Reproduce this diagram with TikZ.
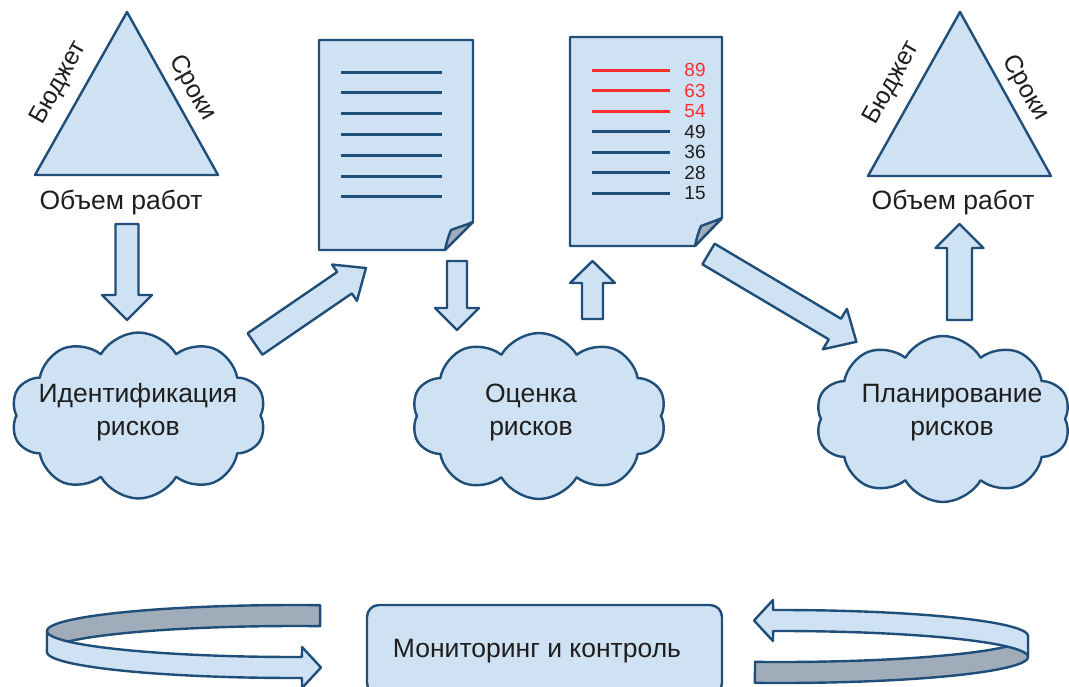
\documentclass[tikz,border=0pt]{standalone}
\usepackage{fontspec}
\setmainfont{Liberation Sans}
\usetikzlibrary{shapes.symbols}

\definecolor{paleblue}{RGB}{207,226,243}
\definecolor{edgeblue}{RGB}{31,78,121}
\definecolor{foldgray}{RGB}{160,172,186}
\definecolor{rankred}{RGB}{255,45,45}
\definecolor{inkgray}{RGB}{30,30,30}

\tikzset{
  paper/.style={fill=paleblue, draw=edgeblue, line width=2.4pt, line join=round},
  blockarrow/.style={paper},
  docline/.style={draw=edgeblue, line width=3pt},
  rankline/.style={draw=rankred, line width=3pt},
  tritext/.style={font=\fontsize{26.5}{33}\selectfont, text=inkgray, inner sep=0pt, align=center},
  sidetext/.style={tritext, font=\fontsize{25}{30}\selectfont},
  ranktext/.style={font=\fontsize{19}{22}\selectfont, inner sep=0pt},
  riskcloud/.style={cloud, cloud puffs=10, cloud puff arc=120, aspect=1.5, paper,
    minimum width=255pt, minimum height=166pt, inner sep=0pt}
}

\begin{document}
\begin{tikzpicture}[x=1pt, y=-1pt]
  \useasboundingbox (0,0) rectangle (1069,686);

  % project triangle, left
  \filldraw[paper] (127,12) -- (218,175) -- (35,175) -- cycle;
  \node[sidetext, rotate=60.6] (budgetL) at (59,83) {Бюджет};
  \node[sidetext, rotate=-60.6] (termsL) at (192,88) {Сроки};
  \node[tritext] (scopeL) at (121,203) {Объем работ};

  % project triangle, right
  \filldraw[paper] (960,12) -- (1051,176) -- (868,176) -- cycle;
  \node[sidetext, rotate=60.6] (budgetR) at (892,83) {Бюджет};
  \node[sidetext, rotate=-60.6] (termsR) at (1025,88) {Сроки};
  \node[tritext] (scopeR) at (953,203) {Объем работ};

  % list of risks
  \begin{scope}[shift={(319,40)}]
    \filldraw[paper] (0,0) -- (154,0) -- (154,182) -- (126,210) -- (0,210) -- cycle;
    \filldraw[paper, fill=foldgray] (126,210) .. controls (128,200) and (130,195) .. (132,190)
      .. controls (140,187) and (147,185) .. (154,182) -- cycle;
    \foreach \i in {0,...,6}
      \draw[docline] (22,{32+20.8*\i}) -- (123,{32+20.8*\i});
  \end{scope}

  % ranked list of risks
  \begin{scope}[shift={(570,37)}]
    \filldraw[paper] (0,0) -- (152,0) -- (152,181) -- (125,209) -- (0,209) -- cycle;
    \filldraw[paper, fill=foldgray] (125,209) .. controls (127,199) and (129,194) .. (131,189)
      .. controls (139,186) and (145,184) .. (152,181) -- cycle;
    \foreach \v [count=\i from 0] in {89,63,54} {
      \draw[rankline] (22,{33+20.5*\i}) -- (100,{33+20.5*\i});
      \node[ranktext, text=rankred] (rank\v) at (125,{33+20.5*\i}) {\v};
    }
    \foreach \v [count=\i from 3] in {49,36,28,15} {
      \draw[docline] (22,{33+20.5*\i}) -- (100,{33+20.5*\i});
      \node[ranktext, text=inkgray] (rank\v) at (125,{33+20.5*\i}) {\v};
    }
  \end{scope}

  % the three steps
  \node[riskcloud] (identify) at (138.5,415.5) {};
  \node[tritext] (identifyText) at (138,412) {Идентификация\\рисков};
  \node[riskcloud] (assess) at (539,416) {};
  \node[tritext] (assessText) at (531,412) {Оценка\\рисков};
  \node[riskcloud] (plan) at (943,419) {};
  \node[tritext] (planText) at (952,413) {Планирование\\рисков};

  % block arrows
  \draw[blockarrow, shift={(127,224)}, rotate=-90]
    (0,-11.5) -- (71,-11.5) -- (71,-25) -- (96,0) -- (71,25) -- (71,11.5) -- (0,11.5) -- cycle;
  \draw[blockarrow, shift={(255,344)}, rotate=34.4]
    (0,-13) -- (108.5,-13) -- (108.5,-22) -- (134.5,0) -- (108.5,22) -- (108.5,13) -- (0,13) -- cycle;
  \draw[blockarrow, shift={(457,261)}, rotate=-90]
    (0,-10) -- (47,-10) -- (47,-22) -- (69,0) -- (47,22) -- (47,10) -- (0,10) -- cycle;
  \draw[blockarrow, shift={(592.5,319)}, rotate=90]
    (0,-10.5) -- (36,-10.5) -- (36,-22.5) -- (58,0) -- (36,22.5) -- (36,10.5) -- (0,10.5) -- cycle;
  \draw[blockarrow, shift={(708.5,254)}, rotate=-30.7]
    (0,-12) -- (147,-12) -- (147,-23.5) -- (172,0) -- (147,23.5) -- (147,12) -- (0,12) -- cycle;
  \draw[blockarrow, shift={(959.5,320)}, rotate=90]
    (0,-12.5) -- (72,-12.5) -- (72,-24) -- (96,0) -- (72,24) -- (72,12.5) -- (0,12.5) -- cycle;

  % monitoring
  \node[paper, rounded corners=12pt, minimum width=355pt, minimum height=90pt] (monitor) at (544.5,650) {};
  \node[tritext] (monitorText) at (537,651) {Мониторинг и контроль};

  % loop arrows round the monitoring box
  \foreach \turn in {0,180} {
    \begin{scope}[rotate around={\turn:(537.5,644)}]
      \filldraw[paper, fill=foldgray]
        plot[domain=84.2:180, samples=40] ({295+248*cos(\x)}, {631-26*sin(\x)})
        -- plot[domain=180:84.2, samples=40] ({295+248*cos(\x)}, {652-26*sin(\x)}) -- cycle;
      \filldraw[paper]
        plot[domain=180:271.6, samples=40] ({295+248*cos(\x)}, {631-26*sin(\x)})
        -- (302,647) -- (321,667.5) -- (302,688)
        -- plot[domain=271.6:180, samples=40] ({295+248*cos(\x)}, {652-26*sin(\x)}) -- cycle;
    \end{scope}
  }
\end{tikzpicture}
\end{document}
